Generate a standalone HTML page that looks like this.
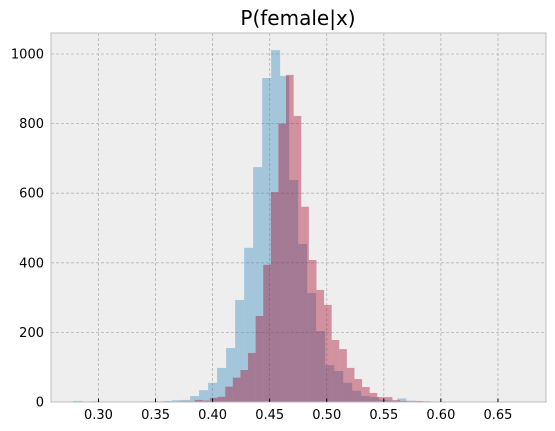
<!DOCTYPE html>
<html><head><meta charset="utf-8"><style>
html,body{margin:0;padding:0;background:#fff;}
svg{display:block;font-family:"DejaVu Sans","Liberation Sans",sans-serif;}
</style></head><body>
<svg id="chart" width="555" height="431" viewBox="0 0 555 431">
<text x="298" y="25" text-anchor="middle" font-size="20" fill="#000">P(female|x)</text>
<rect x="51" y="33" width="495" height="369" fill="#eeeeee"/>
<g id="grid"></g>
<g id="bars"></g>
<rect x="51" y="33" width="495" height="369" fill="none" stroke="#bcbcbc" stroke-width="1"/>
<g id="axes"></g>
</svg>
<script>
const xTicks = [0.30,0.35,0.40,0.45,0.50,0.55,0.60,0.65];
const xTickLabels = ["0.30","0.35","0.40","0.45","0.50","0.55","0.60","0.65"];
const yTicks = [0,200,400,600,800,1000];
const yTickLabels = ["0","200","400","600","800","1000"];
const blueStart = 0.2777;
const blueWidth = 0.00789;
const blueCounts = [3,0,2,0,0,0,0,1,2,2,3,5,6,17,34,55,98,155,293,443,675,931,1011,937,638,454,313,204,106,89,55,32,17,14,6,4,10,4,2,1];
const redStart = 0.3711;
const redWidth = 0.00666;
const redCounts = [2,2,6,4,12,15,44,70,92,141,247,394,603,800,940,822,561,408,322,279,178,152,98,66,43,26,14,14,5,3,2,3,2,1];

const X0=51,X1=546,Y0=402,Y1=33;
const xMin=0.2584,xMax=0.6921,yMax=1060.3;
function xs(v){return X0+(v-xMin)/(xMax-xMin)*(X1-X0);}
function ys(c){return Y0-c/yMax*(Y0-Y1);}
const NS="http://www.w3.org/2000/svg";
function mk(tag,attrs,parent){const e=document.createElementNS(NS,tag);for(const k in attrs)e.setAttribute(k,attrs[k]);parent.appendChild(e);return e;}
const grid=document.getElementById('grid'),bars=document.getElementById('bars'),axes=document.getElementById('axes');
xTicks.forEach((t,i)=>{
  const x=xs(t);
  const g=mk('line',{x1:x,x2:x,y1:Y1,y2:Y0,stroke:'#b2b2b2','stroke-width':0.8,'stroke-dasharray':'3,2'},grid);
  
  
  const tk=mk('line',{x1:x,x2:x,y1:Y0,y2:Y0-3.5,stroke:'#000','stroke-width':1},axes);
  
  
  const tx=mk('text',{x:x,y:419,'text-anchor':'middle','font-size':13,fill:'#000'},axes);
  tx.textContent=xTickLabels[i];
  
  
});
yTicks.forEach((t,i)=>{
  const y=ys(t);
  const g=mk('line',{x1:X0,x2:X1,y1:y,y2:y,stroke:'#b2b2b2','stroke-width':0.8,'stroke-dasharray':'3,2'},grid);
  
  
  const tx=mk('text',{x:44,y:y+4.5,'text-anchor':'end','font-size':13,fill:'#000'},axes);
  tx.textContent=yTickLabels[i];
  
  
});
function drawSeries(start,width,counts,color,name){
  counts.forEach((c,i)=>{
    if(c<=0)return;
    const xa=xs(start+i*width),xb=xs(start+(i+1)*width),y=ys(c);
    const r=mk('rect',{x:xa,y:y,width:xb-xa,height:Y0-y,fill:color,'fill-opacity':0.4},bars);
    
    
  });
}
drawSeries(blueStart,blueWidth,blueCounts,'#348ABD','bar-male');
drawSeries(redStart,redWidth,redCounts,'#A60628','bar-female');
</script>
</body></html>
